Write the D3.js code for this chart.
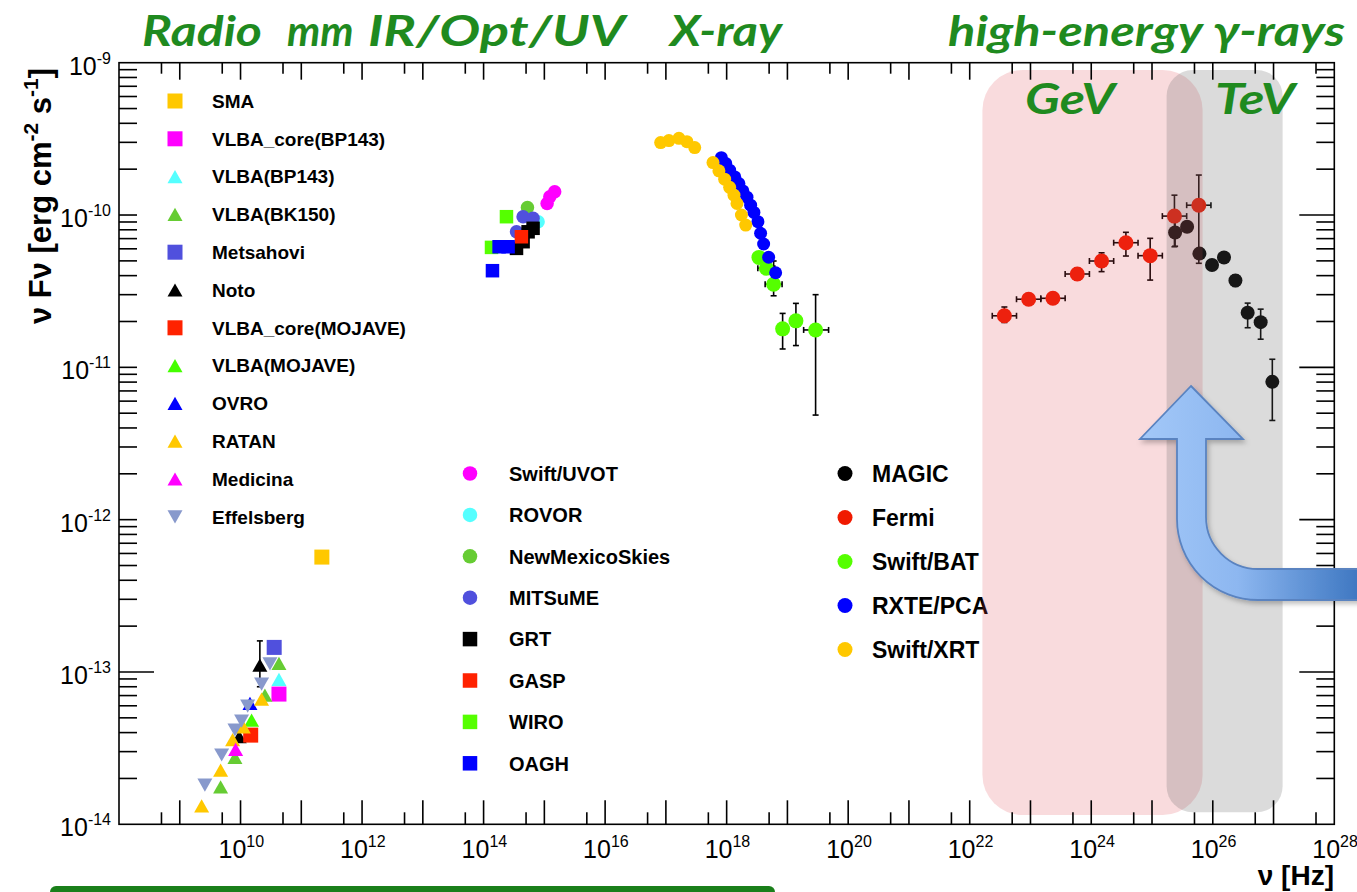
<!DOCTYPE html>
<html><head><meta charset="utf-8">
<script src="https://cdn.jsdelivr.net/npm/d3@7/dist/d3.min.js"></script>
<style>body{margin:0;background:#fff}svg{display:block}</style>
</head><body>
<svg id="c" width="1357" height="892"></svg>
<script>
// ---------------- data (nu in Hz, nuFnu in erg cm^-2 s^-1) ----------------
const smaNu = [2.18e11], smaFlux = [5.68e-13];
const vlbaCoreBPNu = [4.29e10], vlbaCoreBPFlux = [7.16e-14];
const vlbaBPNu = [4.29e10], vlbaBPFlux = [8.95e-14];
const vlbaBKNu = [4.29e10, 2.52e10, 8.09e9, 4.70e9], vlbaBKFlux = [1.14e-13, 7.05e-14, 2.75e-14, 1.76e-14];
const metsahoviNu = [3.58e10], metsahoviFlux = [1.45e-13];
const notoNu = [2.08e10, 9.53e9], notoFlux = [1.11e-13, 3.76e-14];
const notoLo = [8.0e-14, 3.5e-14], notoHi = [1.60e-13, 4.1e-14];
const vlbaCoreMojNu = [1.47e10], vlbaCoreMojFlux = [3.85e-14];
const vlbaMojNu = [1.52e10], vlbaMojFlux = [4.83e-14];
const ovroNu = [1.43e10], ovroFlux = [6.22e-14];
const ratanNu = [2.22e10, 1.11e10, 7.41e9, 4.70e9, 2.29e9], ratanFlux = [6.64e-14, 4.36e-14, 3.60e-14, 2.27e-14, 1.32e-14];
const medicinaNu = [8.30e9], medicinaFlux = [3.10e-14];
const effelsbergNu = [3.05e10, 2.22e10, 1.31e10, 1.04e10, 8.09e9, 4.89e9, 2.59e9];
const effelsbergFlux = [1.13e-13, 8.33e-14, 5.97e-14, 4.76e-14, 4.16e-14, 2.85e-14, 1.81e-14];

const uvotNu = [1.11e15, 1.23e15, 1.48e15], uvotFlux = [1.19e-10, 1.32e-10, 1.42e-10];
const rovorNu = [7.89e14], rovorFlux = [9.03e-11];
const nmsNu = [5.27e14], nmsFlux = [1.12e-10];
const mitsumeNu = [4.47e14, 6.52e14, 3.48e14], mitsumeFlux = [9.75e-11, 9.51e-11, 7.77e-11];
const grtNu = [6.52e14, 5.40e14, 4.47e14, 3.48e14], grtFlux = [8.18e-11, 7.76e-11, 6.68e-11, 6.04e-11];
const gaspNu = [4.19e14], gaspFlux = [7.20e-11];
const wiroNu = [2.38e14, 1.35e14], wiroFlux = [9.75e-11, 6.13e-11];
const oaghNu = [1.80e14, 2.53e14, 1.40e14], oaghFlux = [6.19e-11, 6.19e-11, 4.31e-11];

const magicNu = [2.40e25, 3.78e25, 6.03e25, 9.72e25, 1.53e26, 2.36e26, 3.75e26, 6.14e26, 9.55e26];
const magicFlux = [7.67e-11, 8.37e-11, 5.58e-11, 4.70e-11, 5.26e-11, 3.72e-11, 2.28e-11, 1.98e-11, 8.03e-12];
const magicLo = [6.24e-11, 7.9e-11, 5.2e-11, 4.45e-11, 5.0e-11, 3.4e-11, 1.82e-11, 1.53e-11, 4.48e-12];
const magicHi = [1.02e-10, 8.9e-11, 6.0e-11, 4.95e-11, 5.5e-11, 4.05e-11, 2.64e-11, 2.41e-11, 1.13e-11];

const fermiNu = [3.72e22, 9.33e22, 2.34e23, 5.89e23, 1.48e24, 3.72e24, 9.33e24, 2.34e25, 5.89e25];
const fermiNuLo = [2.35e22, 5.89e22, 1.48e23, 3.72e23, 9.33e23, 2.34e24, 5.89e24, 1.48e25, 3.72e25];
const fermiNuHi = [5.89e22, 1.48e23, 3.72e23, 9.33e23, 2.34e24, 5.89e24, 1.48e25, 3.72e25, 9.33e25];
const fermiFlux = [2.18e-11, 2.80e-11, 2.84e-11, 4.10e-11, 4.99e-11, 6.58e-11, 5.41e-11, 9.84e-11, 1.16e-10];
const fermiLo = [1.97e-11, 2.65e-11, 2.69e-11, 3.74e-11, 4.25e-11, 5.38e-11, 3.74e-11, 6.19e-11, 4.82e-11];
const fermiHi = [2.49e-11, 2.96e-11, 3.00e-11, 4.49e-11, 5.65e-11, 7.70e-11, 7.03e-11, 1.35e-10, 1.83e-10];

const batNu = [3.40e18, 4.50e18, 5.93e18, 8.34e18, 1.38e19, 2.91e19];
const batNuLo = [3.40e18, 3.26e18, 4.30e18, 8.34e18, 1.38e19, 1.85e19];
const batNuHi = [3.40e18, 6.20e18, 8.17e18, 8.34e18, 1.38e19, 4.76e19];
const batFlux = [5.27e-11, 4.47e-11, 3.51e-11, 1.79e-11, 2.02e-11, 1.76e-11];
const batLo = [5.27e-11, 4.2e-11, 2.95e-11, 1.32e-11, 1.39e-11, 4.86e-12];
const batHi = [5.27e-11, 4.8e-11, 4.99e-11, 2.26e-11, 2.63e-11, 3.00e-11];

const pcaNu = [8.18e17, 9.64e17, 1.12e18, 1.36e18, 1.59e18, 1.85e18, 2.16e18, 2.48e18, 2.81e18, 3.27e18, 3.62e18, 4.06e18, 4.91e18, 6.40e18];
const pcaFlux = [2.38e-10, 2.18e-10, 1.97e-10, 1.78e-10, 1.61e-10, 1.44e-10, 1.31e-10, 1.16e-10, 1.04e-10, 9.04e-11, 7.59e-11, 6.45e-11, 5.28e-11, 4.18e-11];

const xrtNu = [8.20e16, 1.12e17, 1.64e17, 2.22e17, 2.98e17, 5.96e17, 7.46e17, 9.27e17, 1.12e18, 1.32e18, 1.48e18, 1.75e18, 2.06e18];
const xrtFlux = [2.99e-10, 3.08e-10, 3.19e-10, 3.03e-10, 2.77e-10, 2.21e-10, 1.95e-10, 1.72e-10, 1.52e-10, 1.35e-10, 1.19e-10, 1.00e-10, 8.59e-11];

// axis tick labels
const xLabelExps = ["10", "12", "14", "16", "18", "20", "22", "24", "26", "28"];
const yLabelExps = ["-9", "-10", "-11", "-12", "-13", "-14"];

// band titles
const topTitles = ["Radio", "mm", "IR/Opt/UV", "X-ray", "high-energy \u03b3-rays"];
const bandNames = ["GeV", "TeV"];

// ---------------- chart ----------------
const svg = d3.select("#c");
const x = d3.scaleLog().domain([1e8, 1e28]).range([119, 1334.3]);
const y = d3.scaleLog().domain([1e-14, 1e-9]).range([824.3, 62.7]);

const radioSeries = [
  {name:"SMA", color:"#ffc800", shape:"square", nu:smaNu, f:smaFlux},
  {name:"VLBA_core(BP143)", color:"#ff00ff", shape:"square", nu:vlbaCoreBPNu, f:vlbaCoreBPFlux},
  {name:"VLBA(BP143)", color:"#55ffff", shape:"tri", nu:vlbaBPNu, f:vlbaBPFlux},
  {name:"VLBA(BK150)", color:"#66cc33", shape:"tri", nu:vlbaBKNu, f:vlbaBKFlux},
  {name:"Metsahovi", color:"#5050dd", shape:"square", nu:metsahoviNu, f:metsahoviFlux},
  {name:"Noto", color:"#000000", shape:"tri", nu:notoNu, f:notoFlux, lo:notoLo, hi:notoHi},
  {name:"VLBA_core(MOJAVE)", color:"#ff2200", shape:"square", nu:vlbaCoreMojNu, f:vlbaCoreMojFlux},
  {name:"VLBA(MOJAVE)", color:"#44ff00", shape:"tri", nu:vlbaMojNu, f:vlbaMojFlux},
  {name:"OVRO", color:"#0000ff", shape:"tri", nu:ovroNu, f:ovroFlux},
  {name:"RATAN", color:"#ffc800", shape:"tri", nu:ratanNu, f:ratanFlux},
  {name:"Medicina", color:"#ff00ff", shape:"tri", nu:medicinaNu, f:medicinaFlux},
  {name:"Effelsberg", color:"#8899cc", shape:"tridown", nu:effelsbergNu, f:effelsbergFlux}
];
const optSeries = [
  {name:"Swift/UVOT", color:"#ff00ff", shape:"circle", nu:uvotNu, f:uvotFlux},
  {name:"ROVOR", color:"#55ffff", shape:"circle", nu:rovorNu, f:rovorFlux},
  {name:"NewMexicoSkies", color:"#66cc33", shape:"circle", nu:nmsNu, f:nmsFlux},
  {name:"MITSuME", color:"#5050dd", shape:"circle", nu:mitsumeNu, f:mitsumeFlux},
  {name:"GRT", color:"#000000", shape:"square", nu:grtNu, f:grtFlux},
  {name:"GASP", color:"#ff2200", shape:"square", nu:gaspNu, f:gaspFlux},
  {name:"WIRO", color:"#55ff00", shape:"square", nu:wiroNu, f:wiroFlux},
  {name:"OAGH", color:"#0000ff", shape:"square", nu:oaghNu, f:oaghFlux}
];
const heSeries = [
  {name:"MAGIC", color:"#000000", shape:"circle", nu:magicNu, f:magicFlux, lo:magicLo, hi:magicHi, r:7},
  {name:"Fermi", color:"#f01a00", shape:"circle", nu:fermiNu, f:fermiFlux, lo:fermiLo, hi:fermiHi, nlo:fermiNuLo, nhi:fermiNuHi, r:7.5},
  {name:"Swift/BAT", color:"#55ff00", shape:"circle", nu:batNu, f:batFlux, lo:batLo, hi:batHi, nlo:batNuLo, nhi:batNuHi, r:7.5},
  {name:"RXTE/PCA", color:"#0000ff", shape:"circle", nu:pcaNu, f:pcaFlux, r:6.5},
  {name:"Swift/XRT", color:"#ffc800", shape:"circle", nu:xrtNu, f:xrtFlux, r:6.5}
];

function marker(g, shape, cx, cy, color, s) {
  if (shape === "square") {
    g.append("rect").attr("x", cx - s/2).attr("y", cy - s/2).attr("width", s).attr("height", s).attr("fill", color);
  } else if (shape === "circle") {
    g.append("circle").attr("cx", cx).attr("cy", cy).attr("r", s/2).attr("fill", color);
  } else {
    const h = s * 0.88, up = shape === "tri";
    const pts = up ? [[cx, cy - h/2], [cx - s/2, cy + h/2], [cx + s/2, cy + h/2]]
                   : [[cx, cy + h/2], [cx - s/2, cy - h/2], [cx + s/2, cy - h/2]];
    g.append("path").attr("d", "M" + pts.map(p => p.join(",")).join("L") + "Z").attr("fill", color);
  }
}

const dataG = svg.append("g");
function drawSeries(s, size) {
  const g = dataG.append("g");
  const ebar = g.append("g").attr("stroke", "#000").attr("stroke-width", 1.6).attr("fill", "none");
  s.nu.forEach((nu, i) => {
    const cx = x(nu), cy = y(s.f[i]);
    if (s.lo && s.lo[i] !== s.hi[i]) {
      const y1 = y(s.hi[i]), y2 = y(s.lo[i]);
      ebar.append("line").attr("x1", cx).attr("x2", cx).attr("y1", y1).attr("y2", y2);
      ebar.append("line").attr("x1", cx - 3).attr("x2", cx + 3).attr("y1", y1).attr("y2", y1);
      ebar.append("line").attr("x1", cx - 3).attr("x2", cx + 3).attr("y1", y2).attr("y2", y2);
    }
    if (s.nlo && s.nlo[i] !== s.nhi[i]) {
      const x1 = x(s.nlo[i]), x2 = x(s.nhi[i]);
      ebar.append("line").attr("x1", x1).attr("x2", x2).attr("y1", cy).attr("y2", cy);
      ebar.append("line").attr("x1", x1).attr("x2", x1).attr("y1", cy - 3).attr("y2", cy + 3);
      ebar.append("line").attr("x1", x2).attr("x2", x2).attr("y1", cy - 3).attr("y2", cy + 3);
    }
  });
  s.nu.forEach((nu, i) => marker(g, s.shape, x(nu), y(s.f[i]), s.color, s.r ? s.r * 2 : size));
}
radioSeries.forEach(s => drawSeries(s, 15));
optSeries.forEach(s => drawSeries(s, 13.5));
heSeries.forEach(s => drawSeries(s, 14));

// legends
const FONT = "'Liberation Sans', Arial, Helvetica, sans-serif";
function legend(list, mx, tx, y0, dy, size, fs) {
  const g = svg.append("g");
  list.forEach((s, i) => {
    const cy = y0 + i * dy;
    marker(g, s.shape, mx, cy, s.color, size);
    g.append("text").attr("x", tx).attr("y", cy + fs * 0.36).attr("font-family", FONT)
      .attr("font-weight", "bold").attr("font-size", fs).attr("fill", "#000").text(s.name);
  });
}
legend(radioSeries, 175, 212, 101, 37.8, 15, 19);
legend(optSeries, 470, 509, 473.5, 41.4, 14.5, 20);
legend(heSeries, 845, 872, 473.5, 44, 15, 23);

// shaded energy bands (drawn above data, translucent)
const bandG = svg.append("g");
bandG.append("rect").attr("x", x(1.62e22)).attr("y", y(8.95e-10)).attr("width", x(6.8e25) - x(1.62e22))
  .attr("height", y(1.15e-14) - y(8.95e-10)).attr("rx", 40).attr("ry", 40)
  .attr("fill", "rgb(222,62,72)").attr("fill-opacity", 0.19);
bandG.append("rect").attr("x", x(1.74e25)).attr("y", y(8.95e-10)).attr("width", x(1.41e27) - x(1.74e25))
  .attr("height", y(1.2e-14) - y(8.95e-10)).attr("rx", 26).attr("ry", 26)
  .attr("fill", "rgb(100,100,100)").attr("fill-opacity", 0.23);

// axes: frame + ticks
const axG = svg.append("g").attr("stroke", "#000").attr("stroke-width", 1.6);
const [X0, X1] = x.range(), [Y0, Y1] = y.range();
axG.append("rect").attr("x", X0).attr("y", Y1).attr("width", X1 - X0).attr("height", Y0 - Y1).attr("fill", "none");
const xMajor = d3.range(9, 28).map(e => Math.pow(10, e));
const xMinor = d3.range(8, 28).map(e => 5 * Math.pow(10, e));
xMajor.forEach(v => {
  axG.append("line").attr("x1", x(v)).attr("x2", x(v)).attr("y1", Y0).attr("y2", Y0 - 24);
  axG.append("line").attr("x1", x(v)).attr("x2", x(v)).attr("y1", Y1).attr("y2", Y1 + 17);
});
xMinor.forEach(v => {
  axG.append("line").attr("x1", x(v)).attr("x2", x(v)).attr("y1", Y0).attr("y2", Y0 - 12);
  axG.append("line").attr("x1", x(v)).attr("x2", x(v)).attr("y1", Y1).attr("y2", Y1 + 11);
});
const yMajor = d3.range(-13, -9).map(e => Math.pow(10, e));
const yMinor = [];
d3.range(-14, -9).forEach(e => d3.range(2, 10).forEach(k => yMinor.push(k * Math.pow(10, e))));
yMinor.forEach(v => {
  axG.append("line").attr("x1", X0).attr("x2", X0 + 18).attr("y1", y(v)).attr("y2", y(v));
  axG.append("line").attr("x1", X1).attr("x2", X1 - 18).attr("y1", y(v)).attr("y2", y(v));
});
yMajor.forEach(v => {
  const leftLen = Math.abs(Math.log10(v) + 13) < 0.01 ? 35 : 18;
  axG.append("line").attr("x1", X0).attr("x2", X0 + leftLen).attr("y1", y(v)).attr("y2", y(v));
  axG.append("line").attr("x1", X1).attr("x2", X1 - 35).attr("y1", y(v)).attr("y2", y(v));
});

// tick labels
const tl = svg.append("g").attr("font-family", FONT).attr("fill", "#000");
xLabelExps.forEach(e => {
  const v = Math.pow(10, +e);
  const t = tl.append("text").attr("x", x(v) - 22).attr("y", 858).attr("font-size", 25);
  t.append("tspan").text("10");
  t.append("tspan").attr("dy", -11).attr("font-size", 16).text(e);
});
yLabelExps.forEach(e => {
  const v = Math.pow(10, +e);
  const t = tl.append("text").attr("x", 111).attr("y", y(v) + 12).attr("text-anchor", "end").attr("font-size", 25);
  t.append("tspan").text("10");
  t.append("tspan").attr("dy", -11).attr("font-size", 16).text(e);
});

// axis titles
const yt = svg.append("text").attr("transform", "translate(51,196) rotate(-90)").attr("text-anchor", "middle")
  .attr("font-family", FONT).attr("font-weight", "bold").attr("font-size", 31).attr("fill", "#000");
yt.append("tspan").text("\u03bd F\u03bd [erg cm");
yt.append("tspan").attr("dy", -13).attr("font-size", 21).text("-2");
yt.append("tspan").attr("dy", 13).text(" s");
yt.append("tspan").attr("dy", -13).attr("font-size", 21).text("-1");
yt.append("tspan").attr("dy", 13).text("]");
svg.append("text").attr("x", 1334).attr("y", 885).attr("text-anchor", "end").attr("font-family", FONT)
  .attr("font-weight", "bold").attr("font-size", 28).attr("fill", "#000").text("\u03bd [Hz]");

// arrow annotation
const defs = svg.append("defs");
const grad = defs.append("linearGradient").attr("id", "ag").attr("gradientUnits", "userSpaceOnUse")
  .attr("x1", 1140).attr("y1", 0).attr("x2", 1357).attr("y2", 0);
grad.append("stop").attr("offset", 0).attr("stop-color", "#a3c8f8");
grad.append("stop").attr("offset", 0.45).attr("stop-color", "#8db7f0");
grad.append("stop").attr("offset", 1).attr("stop-color", "#3f78c2");
const sh = defs.append("filter").attr("id", "sh").attr("x", "-10%").attr("y", "-10%").attr("width", "130%").attr("height", "130%");
sh.append("feDropShadow").attr("dx", 2).attr("dy", 3).attr("stdDeviation", 2.5).attr("flood-color", "#000").attr("flood-opacity", 0.25);
svg.append("path")
  .attr("d", "M1191,386 L1243,439 L1206,439 L1206,517 A52,52 0 0 0 1258,569 L1362,569 L1362,600 L1258,600 A81,81 0 0 1 1177,519 L1177,439 L1140,439 Z")
  .attr("fill", "url(#ag)").attr("stroke", "#5a83c0").attr("stroke-width", 1.8).attr("filter", "url(#sh)");

// green titles
const GF = "Lato, 'Open Sans', 'DejaVu Sans', sans-serif";
const gt = svg.append("g").attr("font-family", GF).attr("font-weight", "bold").attr("font-style", "italic")
  .attr("fill", "#1f8a1f").attr("font-size", 42);
const titlePos = [[142, 120], [287, null], [368, 257], [670, 112], [948, 397]];
topTitles.forEach((t, i) => {
  const el = gt.append("text").attr("x", titlePos[i][0]).attr("y", 46).text(t);
  if (titlePos[i][1]) el.attr("textLength", titlePos[i][1]).attr("lengthAdjust", "spacingAndGlyphs");
});
gt.append("text").attr("x", 1025).attr("y", 114).attr("textLength", 90).attr("lengthAdjust", "spacingAndGlyphs").text(bandNames[0]);
gt.append("text").attr("x", 1215).attr("y", 114).attr("textLength", 80).attr("lengthAdjust", "spacingAndGlyphs").text(bandNames[1]);

// green bar at bottom
svg.append("rect").attr("x", 50).attr("y", 886).attr("width", 725).attr("height", 20).attr("rx", 6).attr("fill", "#1a7f1a");
</script>
</body></html>
